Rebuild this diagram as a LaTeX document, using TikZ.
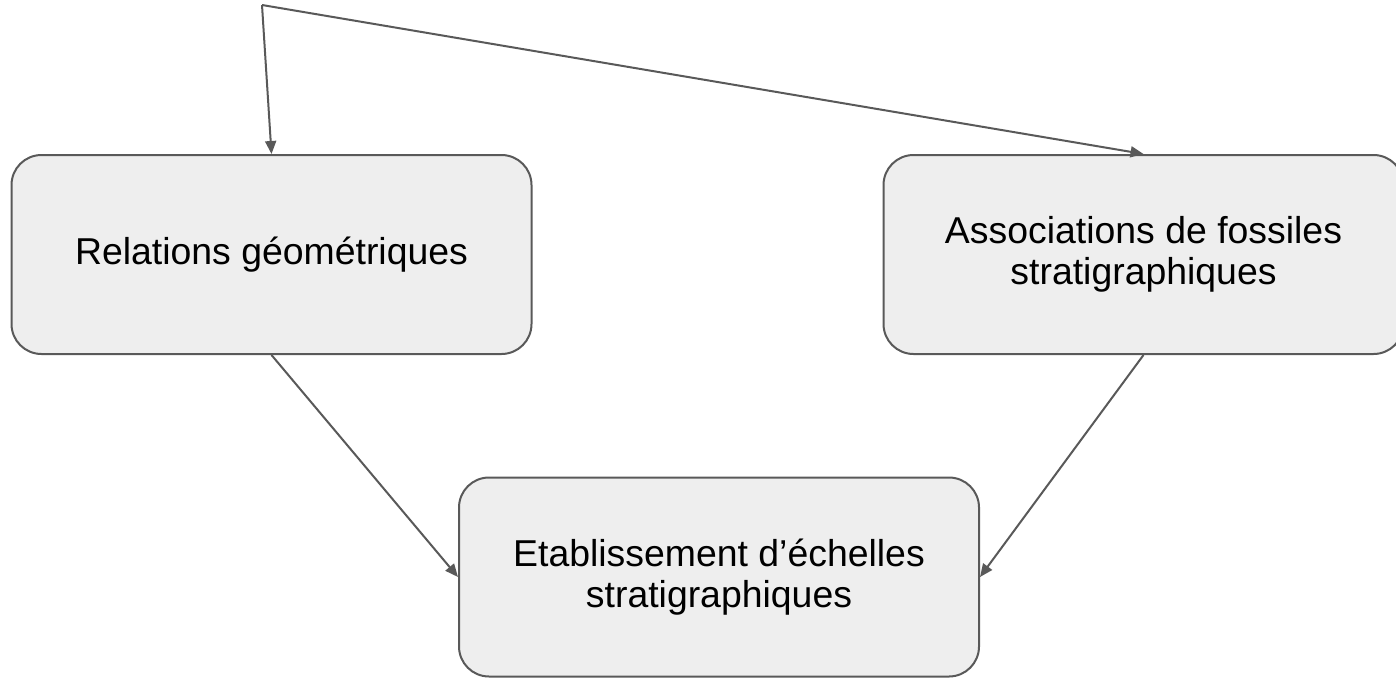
\documentclass[tikz,border=0pt]{standalone}
\usepackage{fontspec}
\setmainfont{Liberation Sans}
\usetikzlibrary{arrows.meta}

\definecolor{linegray}{HTML}{595959}
\definecolor{boxgray}{HTML}{EEEEEE}
\tikzset{
  box/.style={draw=linegray, fill=boxgray, line width=2pt, rounded corners=30pt,
    minimum width=520pt, minimum height=199pt, align=center,
    font=\fontsize{37.4}{41}\selectfont},
  link/.style={draw=linegray, line width=2pt, -{Triangle[length=13pt,width=11pt]}}
}

\begin{document}
\begin{tikzpicture}[x=1pt,y=-1pt]
\useasboundingbox (0,0) rectangle (1396,680);

\node[box] (geo) at (271.5,254.5) {Relations géométriques};
\node[box] (fos) at (1143.5,254.5) {Associations de fossiles\\stratigraphiques};
\node[box] (ech) at (719,577) {Etablissement d’échelles\\stratigraphiques};

\coordinate (src) at (262,5);
\draw[link] (src) -- (geo.north);
\draw[link] (src) -- (fos.north);
\draw[link] (geo.south) -- (ech.west);
\draw[link] (fos.south) -- (ech.east);

\end{tikzpicture}
\end{document}
